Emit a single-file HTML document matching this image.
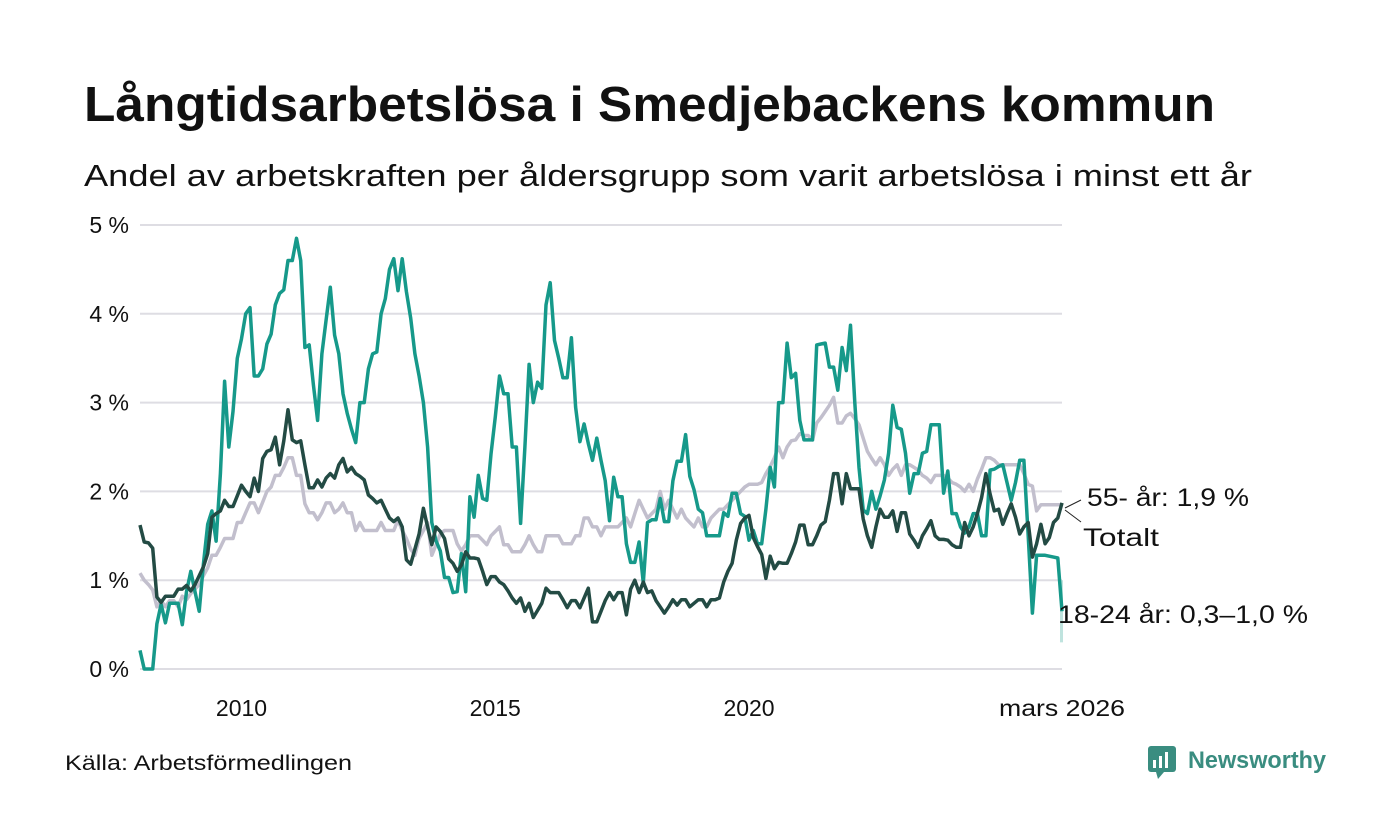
<!DOCTYPE html>
<html><head><meta charset="utf-8"><style>
html,body{margin:0;padding:0;background:#fff;}
svg{display:block;font-family:"Liberation Sans",sans-serif;}
</style></head><body>
<svg id="chart" width="1400" height="840" viewBox="0 0 1400 840">
<text x="84" y="121" font-size="49" font-weight="bold" fill="#111" textLength="1131" lengthAdjust="spacingAndGlyphs">Långtidsarbetslösa i Smedjebackens kommun</text>
<text x="84" y="186" font-size="31" fill="#111" textLength="1168" lengthAdjust="spacingAndGlyphs">Andel av arbetskraften per åldersgrupp som varit arbetslösa i minst ett år</text>
<g id="grid"></g>
<g id="yticks"></g>
<g id="xticks"></g>
<g id="series"></g>
<line x1="1065" y1="508" x2="1081" y2="500" stroke="#222" stroke-width="1"/>
<line x1="1065" y1="510" x2="1081" y2="522" stroke="#222" stroke-width="1"/>
<text x="1087" y="506" font-size="25" fill="#111" textLength="162" lengthAdjust="spacingAndGlyphs">55- år: 1,9 %</text>
<text x="1083" y="546" font-size="25" fill="#111" textLength="76" lengthAdjust="spacingAndGlyphs">Totalt</text>
<text x="1058" y="623" font-size="25" fill="#111" textLength="250" lengthAdjust="spacingAndGlyphs">18-24 år: 0,3–1,0 %</text>
<text x="65" y="770" font-size="21" fill="#111" textLength="287" lengthAdjust="spacingAndGlyphs">Källa: Arbetsförmedlingen</text>
<g>
<rect x="1148" y="746" width="28" height="26" rx="3" fill="#3a8d80"/>
<polygon points="1156,772 1164,772 1158,779" fill="#3a8d80"/>
<rect x="1153" y="760" width="3" height="8" fill="#fff"/>
<rect x="1159" y="756" width="3" height="12" fill="#fff"/>
<rect x="1165" y="752" width="3" height="16" fill="#fff"/>
<text x="1188" y="768" font-size="24" font-weight="bold" fill="#3a8d80" textLength="138" lengthAdjust="spacingAndGlyphs">Newsworthy</text>
</g>
</svg>
<script>
const yTicks = [0,1,2,3,4,5];
const yTickLabels = ["0 %","1 %","2 %","3 %","4 %","5 %"];
const xTickYears = [2010,2015,2020];
const xEndLabel = "mars 2026";
const startYear = 2008, startMonth = 0; // Jan 2008
const youth = [0.21,0,0,0,0.51,0.73,0.52,0.74,0.74,0.74,0.5,0.87,
1.1,0.87,0.65,1.18,1.63,1.78,1.44,2.2,3.24,2.5,2.9,3.5,
3.72,4.0,4.07,3.3,3.3,3.38,3.66,3.77,4.1,4.23,4.27,4.6,
4.6,4.85,4.6,3.62,3.65,3.2,2.8,3.55,3.93,4.3,3.76,3.55,
3.1,2.88,2.7,2.55,3.0,3.0,3.38,3.55,3.57,4.0,4.17,4.5,
4.62,4.26,4.62,4.25,3.95,3.55,3.3,3.0,2.5,1.65,1.44,1.33,
1.03,1.03,0.86,0.87,1.3,0.87,1.94,1.71,2.18,1.92,1.9,2.42,
2.84,3.3,3.1,3.1,2.5,2.5,1.64,2.5,3.43,3.0,3.23,3.16,
4.1,4.35,3.7,3.5,3.28,3.28,3.73,2.95,2.56,2.76,2.54,2.35,
2.6,2.35,2.12,1.67,2.16,1.94,1.94,1.41,1.2,1.2,1.43,0.97,
1.65,1.68,1.68,1.92,1.66,1.66,2.12,2.34,2.34,2.64,2.17,2.02,
1.8,1.76,1.5,1.5,1.5,1.5,1.76,1.72,1.98,1.98,1.75,1.72,
1.45,1.56,1.41,1.41,1.8,2.27,2.05,3.0,3.0,3.67,3.28,3.33,
2.8,2.58,2.58,2.58,3.65,3.66,3.67,3.4,3.4,3.14,3.62,3.36,
3.87,3.0,2.27,1.79,1.75,2.0,1.8,1.95,2.13,2.43,2.97,2.72,
2.7,2.43,1.98,2.2,2.2,2.43,2.45,2.75,2.75,2.75,1.98,2.23,
1.75,1.75,1.6,1.53,1.6,1.75,1.75,1.5,1.5,2.24,2.25,2.28,
2.3,2.1,1.9,2.1,2.35,2.35,1.5,0.63,1.28,1.28,1.28,1.27,
1.26,1.25,0.65];
const total = [1.62,1.43,1.42,1.36,0.81,0.75,0.82,0.82,0.82,0.9,0.9,0.94,
0.88,0.95,1.05,1.15,1.3,1.71,1.75,1.78,1.9,1.83,1.83,1.95,
2.07,2.0,1.94,2.15,2.0,2.37,2.45,2.47,2.61,2.3,2.57,2.92,
2.58,2.55,2.57,2.3,2.04,2.04,2.13,2.05,2.15,2.2,2.15,2.3,
2.37,2.22,2.27,2.2,2.17,2.13,1.96,1.92,1.87,1.9,1.8,1.7,
1.66,1.7,1.6,1.23,1.18,1.35,1.52,1.81,1.6,1.4,1.6,1.55,
1.47,1.24,1.19,1.1,1.17,1.32,1.25,1.25,1.24,1.1,0.95,1.04,
1.04,0.98,0.95,0.88,0.8,0.74,0.8,0.65,0.74,0.58,0.66,0.74,
0.91,0.86,0.86,0.86,0.78,0.69,0.77,0.77,0.69,0.8,0.91,0.53,
0.53,0.65,0.77,0.86,0.78,0.86,0.86,0.61,0.9,1.0,0.86,0.98,
0.86,0.88,0.77,0.7,0.63,0.7,0.78,0.72,0.78,0.78,0.7,0.74,
0.78,0.78,0.7,0.78,0.78,0.8,0.98,1.1,1.19,1.45,1.64,1.7,
1.73,1.48,1.38,1.29,1.02,1.27,1.13,1.2,1.19,1.19,1.3,1.43,
1.62,1.62,1.4,1.4,1.5,1.62,1.66,1.9,2.2,2.2,1.86,2.2,
2.03,2.03,2.03,1.69,1.5,1.37,1.6,1.8,1.71,1.71,1.78,1.55,
1.76,1.76,1.52,1.45,1.37,1.5,1.58,1.67,1.5,1.46,1.46,1.45,
1.4,1.37,1.37,1.65,1.5,1.6,1.75,1.93,2.2,1.97,1.78,1.8,
1.63,1.75,1.86,1.71,1.52,1.6,1.65,1.26,1.41,1.63,1.41,1.48,
1.65,1.7,1.87];
const senior = [1.08,1.0,0.95,0.89,0.7,0.77,0.7,0.77,0.77,0.7,0.82,0.78,
0.85,0.9,0.95,1.05,1.14,1.28,1.28,1.37,1.47,1.47,1.47,1.65,
1.65,1.76,1.87,1.87,1.76,1.88,2.0,2.05,2.18,2.18,2.27,2.38,
2.38,2.18,2.18,1.86,1.76,1.76,1.68,1.76,1.87,1.87,1.76,1.8,
1.87,1.76,1.76,1.56,1.65,1.56,1.56,1.56,1.56,1.65,1.56,1.56,
1.56,1.68,1.56,1.47,1.35,1.28,1.47,1.56,1.65,1.28,1.4,1.52,
1.56,1.56,1.56,1.41,1.33,1.4,1.5,1.5,1.5,1.45,1.4,1.5,
1.55,1.6,1.4,1.4,1.32,1.32,1.32,1.4,1.5,1.4,1.32,1.32,
1.5,1.5,1.5,1.5,1.41,1.41,1.41,1.5,1.5,1.7,1.7,1.6,
1.6,1.5,1.6,1.6,1.6,1.6,1.65,1.7,1.6,1.75,1.9,1.8,
1.7,1.75,1.8,2.0,1.8,1.9,1.8,1.7,1.8,1.7,1.65,1.6,
1.7,1.6,1.6,1.7,1.75,1.8,1.8,1.85,1.9,1.95,2.0,2.05,
2.08,2.08,2.08,2.1,2.2,2.28,2.38,2.5,2.38,2.5,2.57,2.58,
2.65,2.63,2.63,2.58,2.77,2.83,2.9,2.97,3.06,2.77,2.77,2.85,
2.88,2.82,2.75,2.6,2.45,2.37,2.3,2.38,2.3,2.18,2.25,2.3,
2.18,2.3,2.3,2.27,2.24,2.18,2.15,2.1,2.18,2.18,2.18,2.15,
2.1,2.08,2.05,2.0,2.08,2.0,2.14,2.25,2.38,2.38,2.35,2.3,
2.3,2.3,2.3,2.3,2.3,2.2,2.08,2.06,1.78,1.85,1.85,1.85,
1.85,1.85,1.85];
const youthRange = [0.3,1.0];

const X0=140, X1=1062, Y0=669, Y5=225;
const nMonths = youth.length;
function xScale(monthIndex){ return X0 + monthIndex*(X1-X0)/(nMonths-1); }
function xYear(year){ return xScale((year-startYear)*12 - startMonth); }
function yScale(v){ return Y0 - v*(Y0-Y5)/5; }
const NS="http://www.w3.org/2000/svg";
const grid=document.getElementById('grid'), yt=document.getElementById('yticks'), xt=document.getElementById('xticks'), sg=document.getElementById('series');
yTicks.forEach((t,i)=>{
  const l=document.createElementNS(NS,'line');
  
  
  l.setAttribute('x1',X0);l.setAttribute('x2',X1);l.setAttribute('y1',yScale(t));l.setAttribute('y2',yScale(t));
  l.setAttribute('stroke','#dedde3');l.setAttribute('stroke-width','2');
  grid.appendChild(l);
  const tx=document.createElementNS(NS,'text');
  
  
  tx.setAttribute('x',129);tx.setAttribute('y',yScale(t)+8);tx.setAttribute('text-anchor','end');
  tx.setAttribute('font-size','23');tx.setAttribute('fill','#111');
  tx.textContent=yTickLabels[i];
  yt.appendChild(tx);
});
xTickYears.forEach(yr=>{
  const tx=document.createElementNS(NS,'text');
  
  
  tx.setAttribute('x',xYear(yr));tx.setAttribute('y',716);tx.setAttribute('text-anchor','middle');
  tx.setAttribute('font-size','23');tx.setAttribute('fill','#111');
  tx.textContent=String(yr);
  xt.appendChild(tx);
});
const et=document.createElementNS(NS,'text');


et.setAttribute('x',xScale(nMonths-1));et.setAttribute('y',716);et.setAttribute('text-anchor','middle');
et.setAttribute('font-size','23');et.setAttribute('fill','#111');
et.setAttribute('textLength','126');et.setAttribute('lengthAdjust','spacingAndGlyphs');
et.textContent=xEndLabel;
xt.appendChild(et);
const band=document.createElementNS(NS,'rect');


band.setAttribute('x',xScale(nMonths-1)-2);band.setAttribute('width',3);
band.setAttribute('y',yScale(youthRange[1]));band.setAttribute('height',yScale(youthRange[0])-yScale(youthRange[1]));
band.setAttribute('fill','#bfe3de');
sg.appendChild(band);
function drawLine(arr,color,name){
  const p=document.createElementNS(NS,'path');
  
  
  p.setAttribute('d',arr.map((v,i)=>(i?'L':'M')+xScale(i).toFixed(1)+','+yScale(v).toFixed(1)).join(''));
  p.setAttribute('fill','none');p.setAttribute('stroke',color);p.setAttribute('stroke-width','3.5');
  p.setAttribute('stroke-linejoin','round');
  sg.appendChild(p);
}
drawLine(senior,'#c2bfcd','line-55-plus');
drawLine(youth,'#16998a','line-18-24');
drawLine(total,'#234b44','line-totalt');
</script>
</body></html>
